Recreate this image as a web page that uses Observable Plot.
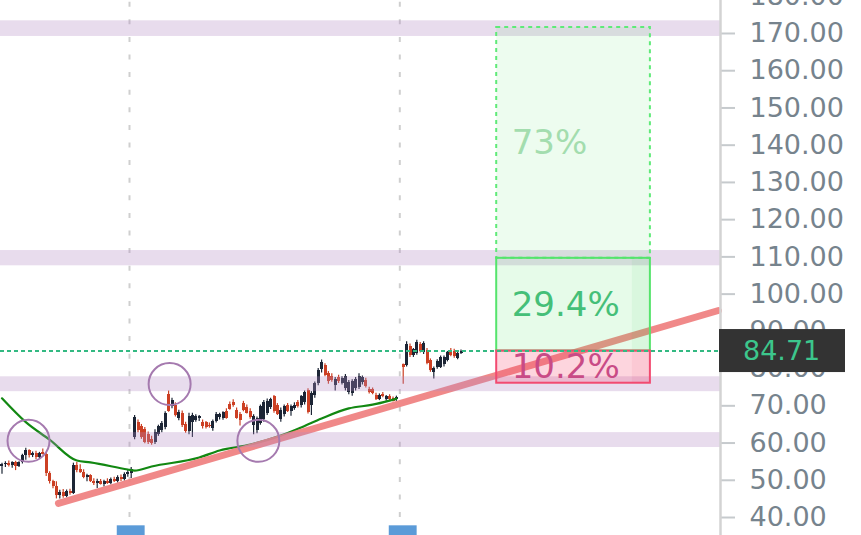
<!DOCTYPE html>
<html>
<head>
<meta charset="utf-8">
<script src="https://cdn.jsdelivr.net/npm/d3@7"></script>
<script src="https://cdn.jsdelivr.net/npm/@observablehq/plot@0.6"></script>
<style>
  html, body { margin: 0; padding: 0; background: #fff; }
  svg { display: block; }
</style>
</head>
<body>
<div id="chart"></div>
<script>
// Daily candles [open, high, low, close] up to the last session break
const candlesBefore = [
  [53.8, 54.6, 51.6, 54.2], [54.2, 55.0, 53.4, 54.6], [54.6, 55.2, 53.6, 54.0], [54.0, 55.0, 53.2, 54.7],
  [54.7, 55.1, 52.6, 53.8], [53.8, 55.0, 53.4, 54.8], [54.8, 57.0, 54.4, 56.6], [56.6, 58.6, 55.4, 57.9],
  [57.9, 58.2, 56.0, 56.6], [56.6, 57.6, 56.1, 57.2], [57.2, 57.8, 55.6, 56.0], [56.0, 57.5, 55.8, 57.2],
  [57.5, 58.4, 56.8, 57.0], [57.0, 57.4, 51.0, 51.8], [51.8, 52.3, 49.0, 49.6], [49.6, 50.0, 47.7, 48.2],
  [48.2, 49.6, 45.0, 45.8], [45.8, 47.3, 45.0, 46.8], [46.8, 47.5, 45.2, 45.7], [45.7, 47.4, 45.3, 47.0],
  [47.0, 47.6, 46.0, 46.4], [46.4, 54.6, 46.2, 54.0], [54.0, 54.8, 52.0, 52.6], [53.0, 54.2, 51.8, 52.2],
  [52.2, 52.8, 50.4, 50.8], [50.8, 51.6, 49.6, 51.2], [51.2, 51.5, 49.4, 49.8], [49.8, 50.4, 48.6, 49.2],
  [49.2, 50.3, 47.8, 49.8], [49.8, 50.2, 48.7, 49.0], [49.0, 50.0, 48.2, 49.7], [49.7, 50.4, 48.9, 49.2],
  [49.2, 50.6, 48.8, 50.3], [50.3, 50.8, 49.4, 49.8], [49.8, 51.2, 49.3, 50.8], [50.8, 51.4, 49.7, 50.1],
  [50.1, 52.0, 49.8, 51.6], [51.6, 52.6, 50.8, 52.2], [51.8, 53.4, 50.5, 53.0], [61.4, 67.4, 60.9, 66.8],
  [65.4, 66.2, 62.8, 63.3], [64.4, 65.0, 61.0, 61.6], [63.6, 64.2, 59.8, 60.2], [62.4, 63.0, 59.6, 60.2],
  [61.0, 61.8, 59.4, 60.0], [60.2, 63.6, 59.6, 62.9], [62.3, 64.8, 61.8, 64.4], [63.4, 65.8, 62.8, 65.3],
  [64.2, 68.4, 63.6, 68.0], [73.0, 74.0, 68.3, 68.6], [69.8, 72.0, 69.2, 71.3], [70.2, 70.8, 67.0, 67.4],
  [66.6, 68.8, 66.0, 68.2], [68.0, 68.6, 64.2, 64.6], [65.0, 65.6, 62.6, 63.2], [63.0, 68.0, 62.2, 67.2],
  [65.6, 68.0, 61.5, 67.4], [66.1, 67.6, 65.6, 67.2], [66.6, 67.4, 65.8, 67.0], [65.6, 66.2, 63.8, 64.4],
  [65.4, 65.8, 63.8, 64.2], [64.8, 65.4, 64.0, 64.4], [63.9, 66.2, 63.2, 65.8], [65.8, 68.2, 65.4, 67.8],
  [66.8, 68.0, 66.2, 67.6], [66.6, 68.4, 66.1, 68.2], [68.6, 69.2, 66.4, 66.6], [70.4, 71.0, 68.8, 69.0],
  [71.0, 71.6, 69.6, 70.0], [68.8, 69.4, 66.4, 66.6], [67.8, 68.2, 64.6, 66.0], [70.6, 71.2, 68.4, 68.8],
  [69.6, 70.2, 67.8, 68.0], [68.6, 69.2, 66.4, 66.8], [64.6, 67.6, 62.2, 67.2], [63.3, 67.0, 62.5, 66.6],
  [65.2, 70.2, 64.8, 69.8], [66.2, 71.4, 65.6, 70.8], [68.0, 71.8, 67.4, 71.2], [69.6, 72.0, 69.0, 71.6],
  [72.4, 72.8, 68.0, 68.4], [70.0, 70.6, 67.4, 67.8], [66.2, 69.4, 65.6, 68.8], [67.6, 70.2, 67.0, 69.8],
  [70.0, 70.6, 68.2, 68.6], [68.4, 70.2, 67.2, 69.8], [69.4, 70.8, 68.8, 70.2], [71.0, 71.4, 69.4, 69.8],
  [70.0, 72.8, 69.4, 72.4], [70.8, 74.0, 70.2, 73.6], [74.0, 74.6, 67.8, 68.2], [70.2, 73.8, 67.4, 73.2],
  [72.8, 76.4, 72.0, 76.0], [76.0, 80.0, 75.4, 79.6], [79.8, 82.3, 78.8, 81.6], [80.8, 81.3, 77.8, 78.1],
  [78.6, 79.2, 75.8, 76.4], [78.0, 78.6, 76.3, 76.8], [75.4, 77.6, 74.0, 77.2], [77.6, 78.2, 76.0, 76.4],
  [76.1, 77.8, 75.6, 77.4], [74.6, 78.4, 74.0, 78.0], [73.5, 76.8, 73.0, 76.2], [73.2, 77.0, 72.6, 76.6],
  [74.6, 77.6, 74.0, 77.2], [75.0, 78.6, 74.4, 78.0], [76.2, 78.0, 75.6, 77.6], [76.8, 77.4, 74.8, 75.2],
  [74.4, 75.0, 73.2, 73.6], [74.4, 74.8, 73.0, 73.4], [72.8, 73.4, 71.4, 71.8], [71.8, 73.2, 71.4, 72.8],
  [73.0, 73.6, 72.2, 72.4], [71.6, 72.8, 71.2, 72.4], [72.6, 73.0, 71.2, 71.6], [72.0, 72.4, 71.0, 71.2],
  [71.6, 72.6, 71.2, 72.2]
];

// Candles of the latest session
const afterStart = 118;
const candlesAfter = [
  [81.0, 81.2, 75.8, 80.4], [80.9, 87.2, 80.4, 86.6], [86.0, 86.6, 83.0, 83.6], [83.6, 85.4, 83.0, 85.0],
  [84.0, 87.6, 83.6, 87.0], [86.6, 87.0, 84.2, 84.6], [84.4, 87.2, 83.8, 86.8], [84.8, 85.4, 81.0, 81.4],
  [82.2, 82.6, 79.0, 79.4], [79.0, 80.4, 77.2, 79.9], [80.2, 82.4, 79.8, 82.0], [80.4, 83.4, 80.0, 83.0],
  [81.0, 83.4, 80.4, 83.0], [82.2, 84.6, 81.8, 84.2], [84.8, 85.4, 83.2, 83.6], [84.6, 85.2, 82.8, 83.2],
  [82.8, 84.4, 82.4, 84.0], [84.0, 85.0, 83.8, 84.71]
];

// Moving average (bar index, value)
const maIdx = [0, 7, 14, 22, 26, 37, 39, 44, 58, 64, 73, 82, 88, 94, 102, 109, 114, 116];
const maVal = [72.0, 65.6, 60.9, 55.3, 54.8, 52.9, 52.6, 53.7, 56.1, 58.0, 59.6, 62.0, 64.2, 66.6, 69.3, 70.3, 71.4, 71.9];

// Rising support trendline (bar index, price)
const trendIdx = [16.6, 210.7];
const trendVal = [43.8, 95.6];

// Horizontal support / resistance zones [low, high]
const zones = [[169.2, 173.4], [107.6, 111.7], [73.8, 77.8], [58.8, 62.8]];

// Circled pivots (bar index, price)
const pivotIdx = [7.8, 49.3, 75.4];
const pivotVal = [60.6, 75.85, 60.6];

// Month separators and event flags (bar index)
const monthBreaks = [37.5, 117];
const eventBars = [38, 118];

// Long position tool
const lastPrice = 84.71;
const targetPct = 29.4;
const stopPct = 10.2;
const extTarget = 171.6;
const extPctLabel = "73%";
const boxStart = 145.5, boxEnd = 190.7, labelEdge = 185.4;

const yTicks = d3.range(40, 190, 10);

const target = lastPrice * (1 + targetPct / 100);
const stop = lastPrice * (1 - stopPct / 100);

const bars = [
  ...candlesBefore.map((d, k) => ({i: k, o: d[0], h: d[1], l: d[2], c: d[3]})),
  ...candlesAfter.map((d, k) => ({i: afterStart + k, o: d[0], h: d[1], l: d[2], c: d[3]}))
];
const up = "#1c2535", down = "#cc4024";
const candleColor = d => d.c >= d.o ? up : down;

const ma = maIdx.map((i, k) => ({i, v: maVal[k]}));
const trend = trendIdx.map((i, k) => ({i, v: trendVal[k]}));
const pivots = pivotIdx.map((i, k) => ({i, v: pivotVal[k]}));

const yDomain = [35.17, 178.86];

const chart = Plot.plot({
  width: 861,
  height: 535,
  marginLeft: 0,
  marginRight: 141,
  marginTop: 0,
  marginBottom: 0,
  style: {background: "#ffffff", fontFamily: "DejaVu Sans, Verdana, sans-serif"},
  x: {domain: [-0.441, 211.32], axis: null},
  y: {domain: yDomain, axis: null},
  marks: [
    // month separators
    Plot.ruleX(monthBreaks, {stroke: "#cfcfcf", strokeWidth: 2, strokeDasharray: "5,12.6", strokeDashoffset: -1.7}),
    // candles
    Plot.ruleX(bars, {x: "i", y1: "l", y2: "h", stroke: candleColor, strokeWidth: 1.2}),
    Plot.ruleX(bars, {x: "i", y1: "o", y2: "c", stroke: candleColor, strokeWidth: 3, shapeRendering: "crispEdges"}),
    // moving average
    Plot.line(ma, {x: "i", y: "v", curve: "monotone-x", stroke: "#128812", strokeWidth: 2.2}),
    // trendline
    Plot.line(trend, {x: "i", y: "v", stroke: "#ef7f7f", strokeOpacity: 0.92, strokeWidth: 7}),
    // zones
    Plot.rect(zones, {y1: d => d[0], y2: d => d[1], fill: "#b48cc3", fillOpacity: 0.3}),
    // circled pivots
    Plot.dot(pivots, {x: "i", y: "v", r: 21, fill: "none", stroke: "#a57aaf", strokeWidth: 2}),
    // position: extended target
    Plot.rect([0], {x1: boxStart, x2: boxEnd, y1: target, y2: extTarget, fill: "#4ce664", fillOpacity: 0.1,
      stroke: "#5fea78", strokeWidth: 2, strokeDasharray: "4,4"}),
    // position: target
    Plot.rect([0], {x1: boxStart, x2: boxEnd, y1: lastPrice, y2: target, fill: "#4ce664", fillOpacity: 0.14}),
    Plot.rect([0], {x1: labelEdge, x2: boxEnd, y1: lastPrice, y2: target, fill: "#3cc95a", fillOpacity: 0.07}),
    Plot.rect([0], {x1: boxStart, x2: boxEnd, y1: lastPrice, y2: target, fill: "none", stroke: "#55e46c", strokeWidth: 2}),
    // position: stop
    Plot.rect([0], {x1: boxStart, x2: boxEnd, y1: stop, y2: lastPrice, fill: "#f5406a", fillOpacity: 0.22}),
    Plot.rect([0], {x1: labelEdge, x2: boxEnd, y1: stop, y2: lastPrice, fill: "#e0305a", fillOpacity: 0.07}),
    Plot.rect([0], {x1: boxStart, x2: boxEnd, y1: stop, y2: lastPrice, fill: "none", stroke: "#f24a70", strokeWidth: 2}),
    // position labels
    Plot.text([extPctLabel], {x: boxStart, y: (target + extTarget) / 2, text: d => d, textAnchor: "start", dx: 15,
      fontSize: 34, fill: "#a3ddae"}),
    Plot.text([targetPct], {x: boxStart, y: (lastPrice + target) / 2, text: d => d.toFixed(1) + "%", textAnchor: "start", dx: 15,
      fontSize: 34, fill: "#45bf78"}),
    Plot.text([stopPct], {x: boxStart, y: (stop + lastPrice) / 2, text: d => d.toFixed(1) + "%", textAnchor: "start", dx: 15,
      fontSize: 34, fill: "#c94b86"}),
    // last price line
    Plot.ruleY([lastPrice], {stroke: "#33b982", strokeWidth: 2, strokeDasharray: "4,3"}),
    // event flags on the time axis
    Plot.rect(eventBars, {x1: d => d - 4.1, x2: d => d + 4.1, y1: yDomain[0], y2: yDomain[0] + 2.6, fill: "#5b9bd8"}),
    // price axis
    Plot.axisY({anchor: "right", ticks: yTicks, tickFormat: d => d.toFixed(2), tickSize: 14, tickPadding: 15,
      fontSize: 27, stroke: "#c6cacd", strokeWidth: 2, fill: "#76838d", color: "#76838d"}),
    Plot.frame({anchor: "right", stroke: "#d3d3d3", strokeWidth: 2.5}),
    // last price tag
    (index, {y}, values, {width, marginRight}) => {
      const g = d3.create("svg:g");
      const yy = y(lastPrice);
      const x0 = width - marginRight - 1;
      g.append("rect").attr("x", x0).attr("y", yy - 21.5).attr("width", 126).attr("height", 43).attr("fill", "#333333");
      g.append("text").attr("x", x0 + 24).attr("y", yy).attr("dy", "0.36em").attr("text-anchor", "start")
        .attr("font-size", 27).attr("fill", "#3cc68c").text(lastPrice.toFixed(2));
      return g.node();
    }
  ]
});

document.getElementById("chart").appendChild(chart);
</script>
</body>
</html>
